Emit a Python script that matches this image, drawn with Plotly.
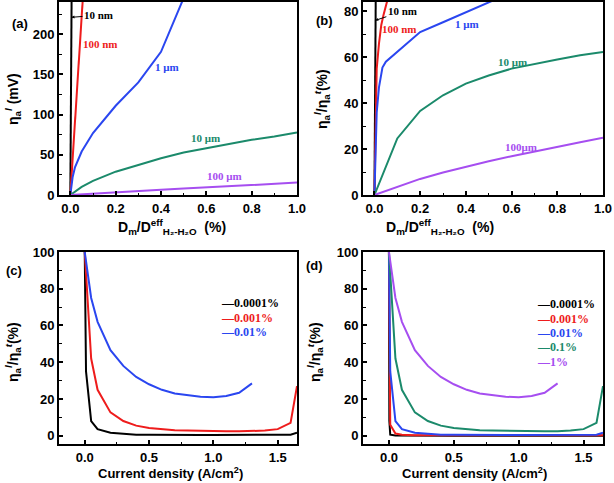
import plotly.graph_objects as go

W, H = 614, 483

# ---------------- data ----------------
# panel (a): eta_a^l (mV) vs Dm/Deff (%)
a_black_x = [0, 0.003, 0.006]
a_black_y = [0, 125, 260]
a_red_x = [0, 0.01, 0.02, 0.03, 0.04, 0.05, 0.06]
a_red_y = [0, 44, 89, 133, 178, 222, 266]
a_blue_x = [0, 0.01, 0.02, 0.05, 0.1, 0.2, 0.3, 0.4, 0.5]
a_blue_y = [0, 22, 34, 54, 77, 111, 140, 178, 245]
a_green_x = [0, 0.05, 0.1, 0.2, 0.3, 0.4, 0.5, 0.6, 0.7, 0.8, 0.9, 1.0]
a_green_y = [0, 10, 17.5, 29, 37.4, 45.7, 52.8, 58.2, 63.6, 68.6, 72.8, 77.8]
a_purple_x = [0, 0.1, 0.2, 0.3, 0.4, 0.5, 0.6, 0.7, 0.8, 0.9, 1.0]
a_purple_y = [0, 1.8, 3.5, 5.0, 6.5, 8.0, 9.5, 11.0, 12.5, 14.0, 15.4]

# panel (b): eta_a^l / eta_a^t (%) vs Dm/Deff (%)
b_black_x = [0, 0.002, 0.006]
b_black_y = [0, 55, 90]
b_red_x = [0, 0.005, 0.01, 0.02, 0.03, 0.04, 0.05, 0.06]
b_red_y = [0, 40, 55, 66, 74, 78.5, 82.5, 86]
b_blue_x = [0, 0.01, 0.02, 0.035, 0.05, 0.1, 0.2, 0.3, 0.4, 0.5, 0.55]
b_blue_y = [0, 36, 47, 55.5, 58, 62.2, 70.9, 75.2, 79.6, 83.9, 86]
b_green_x = [0, 0.05, 0.1, 0.2, 0.3, 0.4, 0.5, 0.6, 0.7, 0.8, 0.9, 1.0]
b_green_y = [0, 12.5, 24.6, 36.6, 43.4, 48.5, 52, 55, 57.1, 59, 60.8, 62.2]
b_purple_x = [0, 0.1, 0.2, 0.3, 0.4, 0.5, 0.6, 0.7, 0.8, 0.9, 1.0]
b_purple_y = [0, 3.5, 7, 9.8, 12.3, 14.7, 16.9, 19, 21, 23, 24.9]

# panel (c): ratio vs current density
c_black_x = [0, 0.01, 0.05, 0.1, 0.2, 0.3, 0.4, 0.5, 0.6, 0.7, 0.8, 0.9, 1.0, 1.1, 1.2, 1.3, 1.4, 1.5, 1.6, 1.65]
c_black_y = [100, 35, 8, 3.6, 1.6, 0.9, 0.6, 0.5, 0.4, 0.4, 0.4, 0.4, 0.4, 0.4, 0.4, 0.4, 0.4, 0.4, 0.6, 1.6]
c_red_x = [0, 0.05, 0.1, 0.2, 0.3, 0.4, 0.5, 0.6, 0.7, 0.8, 0.9, 1.0, 1.1, 1.2, 1.3, 1.4, 1.5, 1.6, 1.65]
c_red_y = [100, 42, 25, 12.7, 8, 5.5, 4.2, 3.4, 3.0, 2.8, 2.6, 2.5, 2.4, 2.4, 2.5, 2.8, 3.6, 7, 27]
c_blue_x = [0, 0.05, 0.1, 0.2, 0.3, 0.4, 0.5, 0.6, 0.7, 0.8, 0.9, 1.0, 1.1, 1.2, 1.3]
c_blue_y = [100, 75, 62, 46.6, 38, 32, 28, 25, 23, 22, 21.2, 21, 21.6, 23.4, 28.5]
c_labels = ["0.0001%", "0.001%", "0.01%"]

# panel (d)
d_black_x = [0, 0.003, 0.01, 0.05, 0.5, 1.0, 1.65]
d_black_y = [100, 8, 0.6, 0.1, 0.05, 0.05, 0.05]
d_red_x = [0, 0.003, 0.01, 0.05, 0.1, 0.2, 0.5, 1.0, 1.5, 1.65]
d_red_y = [100, 35, 6, 1.2, 0.5, 0.3, 0.2, 0.2, 0.2, 0.3]
d_blue_x = c_black_x
d_blue_y = c_black_y
d_green_x = c_red_x
d_green_y = c_red_y
d_purple_x = c_blue_x
d_purple_y = c_blue_y
d_labels = ["0.0001%", "0.001%", "0.01%", "0.1%", "1%"]

BLACK = "#000000"
RED = "#ee1c1c"
BLUE = "#2a46f0"
GREEN = "#1b8a6b"
PURPLE = "#a64ef0"

fig = go.Figure()


def add(x, y, color, ax):
    fig.add_trace(go.Scatter(x=x, y=y, mode="lines", line=dict(color=color, width=2),
                             xaxis="x" + ax, yaxis="y" + ax, showlegend=False,
                             hoverinfo="skip", cliponaxis=True))


for x, y, c in [(a_black_x, a_black_y, BLACK), (a_red_x, a_red_y, RED), (a_blue_x, a_blue_y, BLUE),
                (a_green_x, a_green_y, GREEN), (a_purple_x, a_purple_y, PURPLE)]:
    add(x, y, c, "")
for x, y, c in [(b_black_x, b_black_y, BLACK), (b_red_x, b_red_y, RED), (b_blue_x, b_blue_y, BLUE),
                (b_green_x, b_green_y, GREEN), (b_purple_x, b_purple_y, PURPLE)]:
    add(x, y, c, "2")
for x, y, c in [(c_black_x, c_black_y, BLACK), (c_red_x, c_red_y, RED), (c_blue_x, c_blue_y, BLUE)]:
    add(x, y, c, "3")
for x, y, c in [(d_black_x, d_black_y, BLACK), (d_red_x, d_red_y, RED), (d_blue_x, d_blue_y, BLUE),
                (d_green_x, d_green_y, GREEN), (d_purple_x, d_purple_y, PURPLE)]:
    add(x, y, c, "4")


def px_x(p):
    return p / W


def px_y(p):
    return 1 - p / H


TICKFONT = dict(family="Liberation Sans, Arial", size=13, color="black", weight="bold")


def axis(domain, rng, dtick, minor, anchor, fmt=None):
    d = dict(domain=domain, range=rng, dtick=dtick, tick0=0, anchor=anchor,
             showline=True, linecolor="black", linewidth=2, mirror=True,
             ticks="inside", ticklen=4, tickwidth=1.5, tickcolor="black",
             minor=dict(ticks="inside", ticklen=2.5, dtick=minor, tickcolor="black", tickwidth=1),
             showgrid=False, zeroline=False, tickfont=TICKFONT, automargin=False)
    if fmt:
        d["tickformat"] = fmt
    return d


xa = [px_x(59), px_x(297)]
xb = [px_x(363), px_x(603)]
ytop = [px_y(195), px_y(2)]
ybot = [px_y(444), px_y(252)]

fig.update_layout(
    width=W, height=H, margin=dict(l=0, r=0, t=0, b=0),
    paper_bgcolor="white", plot_bgcolor="white", showlegend=False,
    xaxis=axis(xa, [-0.05, 1.0], 0.2, 0.1, "y", ".1f"),
    yaxis=axis(ytop, [0, 240], 50, 25, "x"),
    xaxis2=axis(xb, [-0.05, 1.0], 0.2, 0.1, "y2", ".1f"),
    yaxis2=axis(ytop, [0, 84], 20, 10, "x2"),
    xaxis3=axis(xa, [-0.2, 1.65], 0.5, 0.25, "y3", ".1f"),
    yaxis3=axis(ybot, [-4.5, 100], 20, 10, "x3"),
    xaxis4=axis(xb, [-0.2, 1.65], 0.5, 0.25, "y4", ".1f"),
    yaxis4=axis(ybot, [-4.5, 100], 20, 10, "x4"),
)

ann = []
SANS = "Liberation Sans, Arial"
SERIF = "Liberation Serif, Times New Roman"


def text(px, py, s, size=14, color="black", family=SANS, angle=0, xanchor="center"):
    ann.append(dict(x=px_x(px), y=px_y(py), xref="paper", yref="paper", text=s, showarrow=False,
                    font=dict(family=family, size=size, color=color, weight="bold"),
                    textangle=angle, xanchor=xanchor, yanchor="middle"))


# panel labels
text(20, 23, "(a)", 13)
text(324, 21, "(b)", 13)
text(14, 270, "(c)", 13)
text(314, 265, "(d)", 13)

# axis titles
ylab1 = "η<sub>a</sub><sup><i>l</i></sup> (mV)"
ylab2 = "η<sub>a</sub><sup><i>l</i></sup>/η<sub>a</sub><sup><i>t</i></sup>(%)"
xlab1 = "D<sub>m</sub>/D<sup>eff</sup><sub>H₂-H₂O</sub>  (%)"
xlab2 = "Current density (A/cm<sup>2</sup>)"
text(13, 99, ylab1, angle=-90)
text(322, 99, ylab2, angle=-90)
text(13, 352, ylab2, angle=-90)
text(315, 352, ylab2, angle=-90)
text(172, 227, xlab1)
text(440, 227, xlab1)
text(170, 473, xlab2, 13)
text(474, 473, xlab2, 13)

# curve labels (a)
ann.append(dict(x=0.005, y=221, xref="x", yref="y", ax=27, ay=-2, text="10 nm", showarrow=True,
                arrowhead=2, arrowsize=0.6, arrowwidth=1, arrowcolor="black",
                font=dict(family=SERIF, size=11, color="black", weight="bold")))
text(100, 44, "100 nm", 11, RED, SERIF)
text(167, 67, "1 μm", 11, BLUE, SERIF)
text(205, 138, "10 μm", 11, GREEN, SERIF)
text(224, 176, "100 μm", 11, PURPLE, SERIF)

# curve labels (b)
ann.append(dict(x=0.004, y=76, xref="x2", yref="y2", ax=27, ay=-9, text="10 nm", showarrow=True,
                arrowhead=2, arrowsize=0.6, arrowwidth=1, arrowcolor="black",
                font=dict(family=SERIF, size=11, color="black", weight="bold")))
text(399, 29, "100 nm", 11, RED, SERIF)
text(467, 24, "1 μm", 11, BLUE, SERIF)
text(512, 62, "10 μm", 11, GREEN, SERIF)
text(521, 147, "100μm", 11, PURPLE, SERIF)

# legends (c)
for lab, c, py in zip(c_labels, [BLACK, RED, BLUE], [303, 318, 332]):
    text(219, py, "—" + lab, 12, c, SERIF, xanchor="left")
# legends (d)
for lab, c, py in zip(d_labels, [BLACK, RED, BLUE, GREEN, PURPLE], [304, 319, 333, 347, 362]):
    text(535, py, "—" + lab, 12, c, SERIF, xanchor="left")

fig.update_layout(annotations=ann)
fig.write_html("out.html")
